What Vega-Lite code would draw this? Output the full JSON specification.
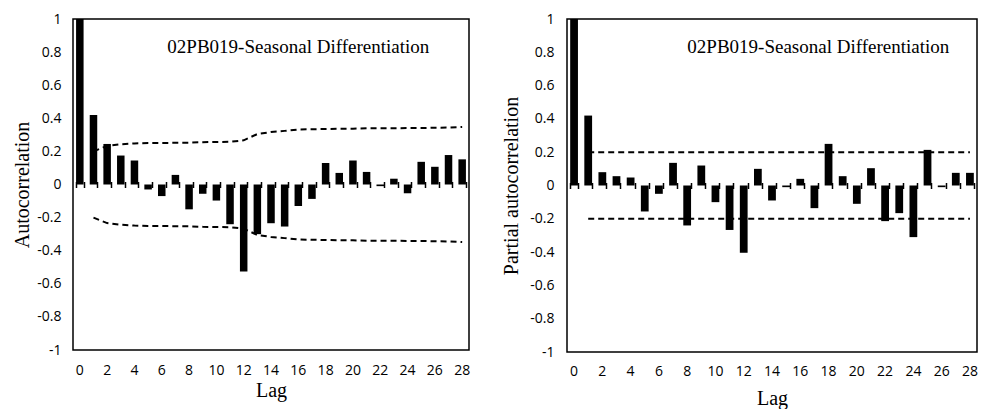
{
  "$schema": "https://vega.github.io/schema/vega-lite/v6.json",
  "padding": {"left": 12, "top": 11, "right": 16, "bottom": 0},
  "background": "white",
  "spacing": 30,
  "config": {
    "view": {"stroke": "black", "strokeWidth": 1.5},
    "axis": {
      "labelFont": "Open Sans", "labelFontSize": 14, "labelColor": "black",
      "titleFont": "Liberation Serif", "titleFontSize": 20, "titleFontWeight": "normal", "titleColor": "black",
      "grid": false
    },
    "axisY": {"ticks": false, "domain": false, "tickCount": 10,
              "labelExpr": "replace(format(datum.value, '~g'), '−', '-')"}
  },
  "datasets": {
    "acf": [
      {"lag": 0, "value": 1}, {"lag": 1, "value": 0.42}, {"lag": 2, "value": 0.245}, {"lag": 3, "value": 0.175},
      {"lag": 4, "value": 0.145}, {"lag": 5, "value": -0.03}, {"lag": 6, "value": -0.07}, {"lag": 7, "value": 0.058},
      {"lag": 8, "value": -0.15}, {"lag": 9, "value": -0.056}, {"lag": 10, "value": -0.097}, {"lag": 11, "value": -0.24},
      {"lag": 12, "value": -0.525}, {"lag": 13, "value": -0.3}, {"lag": 14, "value": -0.234}, {"lag": 15, "value": -0.254},
      {"lag": 16, "value": -0.13}, {"lag": 17, "value": -0.087}, {"lag": 18, "value": 0.13}, {"lag": 19, "value": 0.07},
      {"lag": 20, "value": 0.145}, {"lag": 21, "value": 0.076}, {"lag": 22, "value": -0.01}, {"lag": 23, "value": 0.035},
      {"lag": 24, "value": -0.053}, {"lag": 25, "value": 0.137}, {"lag": 26, "value": 0.107}, {"lag": 27, "value": 0.178},
      {"lag": 28, "value": 0.152}
    ],
    "acfband": [
      {"lag": 1, "upper": 0.2, "lower": -0.2}, {"lag": 2, "upper": 0.233, "lower": -0.233},
      {"lag": 3, "upper": 0.243, "lower": -0.243}, {"lag": 4, "upper": 0.248, "lower": -0.248},
      {"lag": 5, "upper": 0.251, "lower": -0.251}, {"lag": 6, "upper": 0.251, "lower": -0.251},
      {"lag": 7, "upper": 0.252, "lower": -0.252}, {"lag": 8, "upper": 0.253, "lower": -0.253},
      {"lag": 9, "upper": 0.256, "lower": -0.256}, {"lag": 10, "upper": 0.257, "lower": -0.257},
      {"lag": 11, "upper": 0.258, "lower": -0.258}, {"lag": 12, "upper": 0.267, "lower": -0.267},
      {"lag": 13, "upper": 0.305, "lower": -0.305}, {"lag": 14, "upper": 0.317, "lower": -0.317},
      {"lag": 15, "upper": 0.324, "lower": -0.324}, {"lag": 16, "upper": 0.332, "lower": -0.332},
      {"lag": 17, "upper": 0.334, "lower": -0.334}, {"lag": 18, "upper": 0.335, "lower": -0.335},
      {"lag": 19, "upper": 0.337, "lower": -0.337}, {"lag": 20, "upper": 0.337, "lower": -0.337},
      {"lag": 21, "upper": 0.34, "lower": -0.34}, {"lag": 22, "upper": 0.34, "lower": -0.34},
      {"lag": 23, "upper": 0.34, "lower": -0.34}, {"lag": 24, "upper": 0.341, "lower": -0.341},
      {"lag": 25, "upper": 0.341, "lower": -0.341}, {"lag": 26, "upper": 0.343, "lower": -0.343},
      {"lag": 27, "upper": 0.344, "lower": -0.344}, {"lag": 28, "upper": 0.348, "lower": -0.348}
    ],
    "pacf": [
      {"lag": 0, "value": 1}, {"lag": 1, "value": 0.42}, {"lag": 2, "value": 0.08}, {"lag": 3, "value": 0.056},
      {"lag": 4, "value": 0.048}, {"lag": 5, "value": -0.156}, {"lag": 6, "value": -0.05}, {"lag": 7, "value": 0.136},
      {"lag": 8, "value": -0.24}, {"lag": 9, "value": 0.12}, {"lag": 10, "value": -0.1}, {"lag": 11, "value": -0.267},
      {"lag": 12, "value": -0.404}, {"lag": 13, "value": 0.1}, {"lag": 14, "value": -0.09}, {"lag": 15, "value": -0.01},
      {"lag": 16, "value": 0.04}, {"lag": 17, "value": -0.136}, {"lag": 18, "value": 0.25}, {"lag": 19, "value": 0.056},
      {"lag": 20, "value": -0.11}, {"lag": 21, "value": 0.104}, {"lag": 22, "value": -0.214}, {"lag": 23, "value": -0.166},
      {"lag": 24, "value": -0.31}, {"lag": 25, "value": 0.214}, {"lag": 26, "value": -0.01}, {"lag": 27, "value": 0.076},
      {"lag": 28, "value": 0.076}
    ],
    "pacfband": [
      {"lag": 1, "upper": 0.2, "lower": -0.2}, {"lag": 28, "upper": 0.2, "lower": -0.2}
    ],
    "caption": [{"label": "02PB019-Seasonal Differentiation"}]
  },
  "hconcat": [
    {
      "width": 396,
      "height": 331,
      "resolve": {"axis": {"x": "independent"}},
      "layer": [
        {
          "data": {"name": "acf"},
          "mark": {"type": "bar", "color": "black"},
          "encoding": {
            "x": {
              "field": "lag", "type": "ordinal",
              "scale": {"paddingInner": 0.45, "paddingOuter": 0.225},
              "axis": {"orient": "bottom", "title": "Lag", "ticks": false, "domain": false, "labelAngle": 0,
                       "values": [0,2,4,6,8,10,12,14,16,18,20,22,24,26,28], "labelPadding": 13, "titlePadding": 3}
            },
            "y": {
              "field": "value", "type": "quantitative", "title": "Autocorrelation",
              "scale": {"domain": [-1, 1], "nice": false},
              "axis": {"labelPadding": 12, "titlePadding": 4}
            }
          }
        },
        {
          "mark": {"type": "rule", "color": "black", "strokeWidth": 1.5},
          "encoding": {"y": {"datum": 0, "type": "quantitative", "title": "Autocorrelation"}}
        },
        {
          "data": {"name": "acfband"},
          "mark": {"type": "line", "color": "black", "strokeWidth": 2, "strokeDash": [6, 4]},
          "encoding": {
            "x": {
              "field": "lag", "type": "ordinal",
              "axis": {"orient": "top", "offset": -168.5, "labels": false, "domain": false, "title": null,
                       "tickBand": "extent", "tickSize": 6, "tickColor": "black", "tickWidth": 1.5, "zindex": 2}
            },
            "y": {"field": "upper", "type": "quantitative", "title": "Autocorrelation"}
          }
        },
        {
          "data": {"name": "acfband"},
          "mark": {"type": "line", "color": "black", "strokeWidth": 2, "strokeDash": [6, 4]},
          "encoding": {
            "x": {"field": "lag", "type": "ordinal", "axis": null},
            "y": {"field": "lower", "type": "quantitative", "title": "Autocorrelation"}
          }
        },
        {
          "data": {"name": "caption"},
          "mark": {"type": "text", "font": "Liberation Serif", "fontSize": 19, "color": "black", "align": "center", "baseline": "middle"},
          "encoding": {
            "x": {"datum": 16, "type": "ordinal", "axis": null},
            "y": {"datum": 0.83, "type": "quantitative", "title": "Autocorrelation"},
            "text": {"field": "label"}
          }
        }
      ]
    },
    {
      "width": 410,
      "height": 333,
      "resolve": {"axis": {"x": "independent"}},
      "layer": [
        {
          "data": {"name": "pacf"},
          "mark": {"type": "bar", "color": "black"},
          "encoding": {
            "x": {
              "field": "lag", "type": "ordinal",
              "scale": {"paddingInner": 0.45, "paddingOuter": 0.225},
              "axis": {"orient": "bottom", "title": "Lag", "ticks": false, "domain": false, "labelAngle": 0,
                       "values": [0,2,4,6,8,10,12,14,16,18,20,22,24,26,28], "labelPadding": 12, "titlePadding": 10}
            },
            "y": {
              "field": "value", "type": "quantitative", "title": "Partial autocorrelation",
              "scale": {"domain": [-1, 1], "nice": false},
              "axis": {"labelPadding": 13, "titlePadding": 8}
            }
          }
        },
        {
          "mark": {"type": "rule", "color": "black", "strokeWidth": 1.5},
          "encoding": {"y": {"datum": 0, "type": "quantitative", "title": "Partial autocorrelation"}}
        },
        {
          "data": {"name": "pacfband"},
          "mark": {"type": "line", "color": "black", "strokeWidth": 2, "strokeDash": [6, 4]},
          "encoding": {
            "x": {
              "field": "lag", "type": "ordinal",
              "axis": {"orient": "top", "offset": -169.5, "labels": false, "domain": false, "title": null,
                       "tickBand": "extent", "tickSize": 6, "tickColor": "black", "tickWidth": 1.5, "zindex": 2}
            },
            "y": {"field": "upper", "type": "quantitative", "title": "Partial autocorrelation"}
          }
        },
        {
          "data": {"name": "pacfband"},
          "mark": {"type": "line", "color": "black", "strokeWidth": 2, "strokeDash": [6, 4]},
          "encoding": {
            "x": {"field": "lag", "type": "ordinal", "axis": null},
            "y": {"field": "lower", "type": "quantitative", "title": "Partial autocorrelation"}
          }
        },
        {
          "data": {"name": "caption"},
          "mark": {"type": "text", "font": "Liberation Serif", "fontSize": 19, "color": "black", "align": "center", "baseline": "middle"},
          "encoding": {
            "x": {"datum": 17, "type": "ordinal", "bandPosition": 1, "axis": null},
            "y": {"datum": 0.83, "type": "quantitative", "title": "Partial autocorrelation"},
            "text": {"field": "label"}
          }
        }
      ]
    }
  ]
}
